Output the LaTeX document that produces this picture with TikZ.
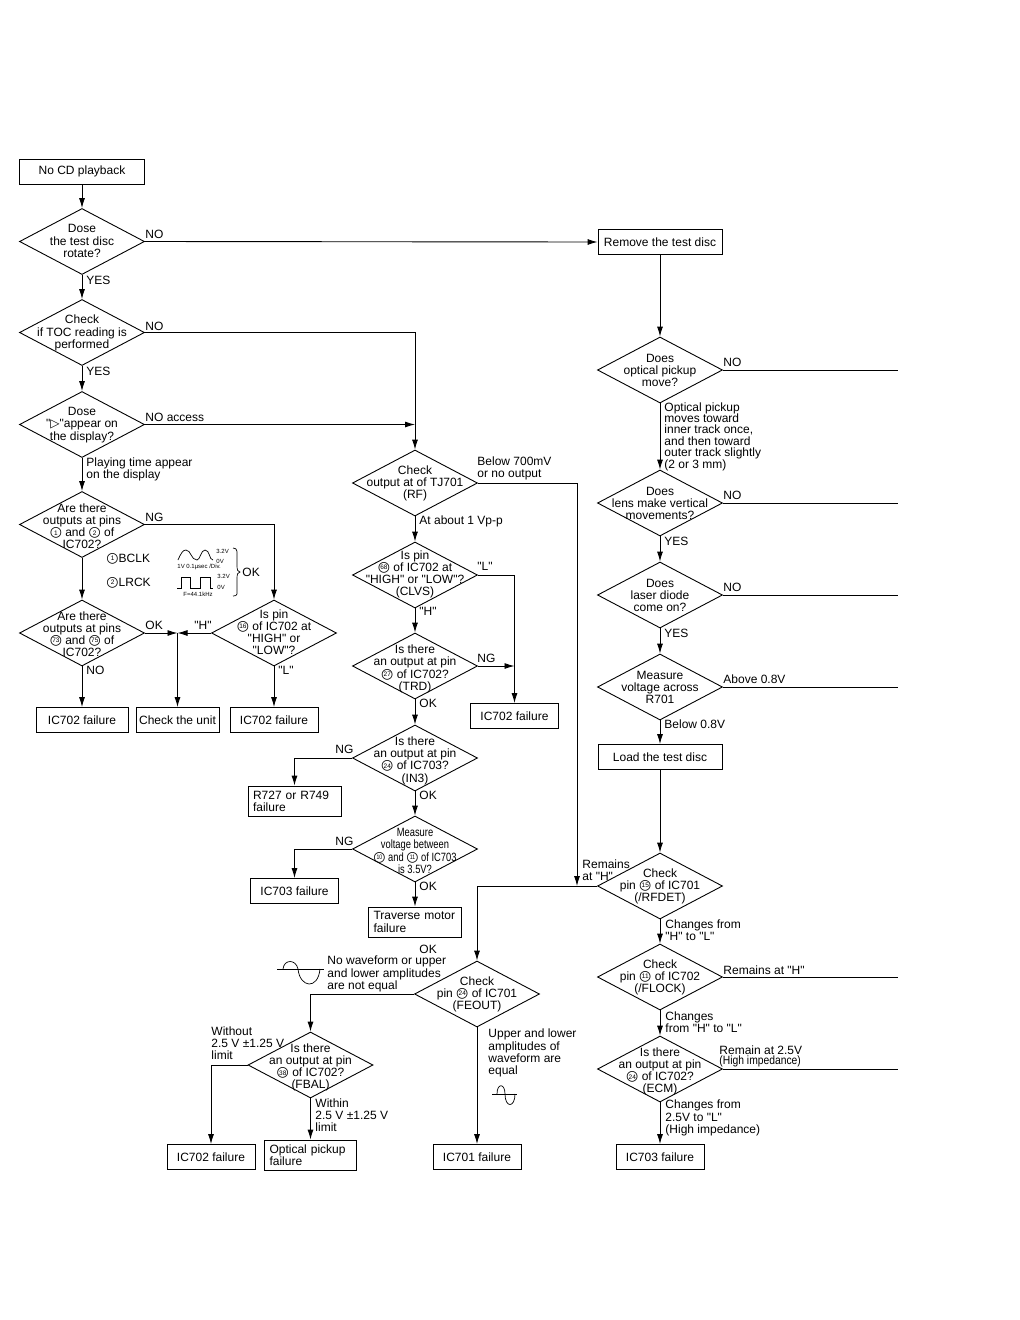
\documentclass[tikz,border=0pt]{standalone}
\usepackage{fontspec}
\newfontfamily\labelfont{Liberation Sans}
\newfontfamily\symfont{DejaVu Sans}
\newfontfamily\narrowfont[FakeStretch=0.86]{Liberation Sans}
\newfontfamily\thinfont[FakeStretch=0.78]{Liberation Sans}
\usetikzlibrary{shapes.geometric,arrows.meta}
\usetikzlibrary{positioning}
\newcommand{\dtext}[2][-4pt]{\makebox[0pt]{\smash{\raisebox{#1}{\begin{tabular}[c]{@{}c@{}}#2\end{tabular}}}}}
\newcommand{\dtight}[2][-4pt]{{\def\arraystretch{.92}\dtext[#1]{#2}}}
\newcommand{\pinno}[1]{\ooalign{\hfil\raisebox{1.7pt}{\fontsize{6.5}{6}\selectfont #1}\hfil\cr{\fontsize{14}{14}\symfont\char"25CB}\cr}}
\tikzset{
	dia/.style={draw, diamond, inner sep=0pt, minimum width=125pt, minimum height=66pt},
	proc/.style={draw, rectangle, inner sep=0pt, minimum width=88pt, minimum height=25pt},
	procl/.style={proc, minimum width=93pt, minimum height=30pt, inner xsep=5pt, text width=83pt, align=left},
	lbl/.style={anchor=west, inner sep=0pt, align=left},
	tiny/.style={inner sep=0pt, font=\labelfont\fontsize{6}{6}\selectfont},
}

\begin{document}
\begin{tikzpicture}[x=1pt, y=-1pt, >={Latex[length=10pt,width=6pt]}, line width=0.9pt, font=\labelfont\fontsize{12}{12.2}\selectfont]
	\useasboundingbox (0,0) rectangle (1020,1320);
	% left column
	\node[proc, minimum width=125pt] (Start) at (82,171.5) {No CD playback};
	\node[dia, below of=Start, node distance=70pt] (Rotate) {\dtext{Dose\\the test disc\\rotate?}};
	\node[dia, below of=Rotate, node distance=91pt] (Toc) {\dtext{Check\\if TOC reading is\\performed}};
	\node[dia, below of=Toc, node distance=92pt] (Display) {\dtext{Dose\\"{\symfont\char"25B7}"appear on\\the display?}};
	\node[dia, below of=Display, node distance=100pt] (PinsLow) {\dtext[-6.5pt]{Are there\\outputs at pins\\\pinno{1} and \pinno{2} of\\IC702?}};
	\node[dia, below of=PinsLow, node distance=108.5pt] (PinsHigh) {\dtight[-5.5pt]{Are there\\outputs at pins\\\pinno{73} and \pinno{75} of\\IC702?}};
	\node[proc, minimum width=92pt, below of=PinsHigh, node distance=87pt] (FailHigh) {IC702 failure};
	\node[dia] (PinLevel) at (274,633) {\dtext{Is pin\\\pinno{16} of IC702 at\\"HIGH" or\\"LOW"?}};
	\node[proc, below of=PinLevel, node distance=87pt] (FailLevel) {IC702 failure};
	\node[proc, minimum width=83pt] (Unit) at (177.5,720) {Check the unit};
	\coordinate (Merge) at (Unit.north |- PinsHigh.east);
	% middle column
	\node[dia] (Tj) at (415,483) {\dtext{Check\\output at of TJ701\\(RF)}};
	\node[dia, below of=Tj, node distance=92pt] (Clvs) {\dtext[-3pt]{Is pin\\\pinno{68} of IC702 at\\"HIGH" or "LOW"?\\(CLVS)}};
	\node[dia, below of=Clvs, node distance=91pt] (Trd) {\dtext[-6.5pt]{Is there\\an output at pin\\\pinno{27} of IC702?\\(TRD)}};
	\node[dia, below of=Trd, node distance=92pt] (Inthree) {\dtext[-6pt]{Is there\\an output at pin\\\pinno{24} of IC703?\\(IN3)}};
	\node[dia, below of=Inthree, node distance=91pt] (Between) {\dtext[-6.5pt]{\thinfont Measure\\\thinfont voltage between\\\thinfont\pinno{10} and \pinno{11} of IC703\\\thinfont is 3.5V?}};
	\node[procl, below of=Between, node distance=73pt] (Traverse) {Traverse motor\\failure};
	\node[procl] (Resistor) at (294.5,801) {R727 or R749\\failure};
	\node[proc] (FailBetween) at (294.5,891) {IC703 failure};
	\node[proc] (FailClvs) at (514.5,716) {IC702 failure};
	% right column
	\node[proc, minimum width=124pt] (Remove) at (660,242) {Remove the test disc};
	\node[dia, below of=Remove, node distance=128pt] (Optical) {\dtext[-5pt]{Does\\optical pickup\\move?}};
	\node[dia, below of=Optical, node distance=133pt] (Lens) {\dtext[-5pt]{Does\\lens make vertical\\movements?}};
	\node[dia, below of=Lens, node distance=92pt] (Laser) {\dtext[-5pt]{Does\\laser diode\\come on?}};
	\node[dia, below of=Laser, node distance=92pt] (Across) {\dtext[-5pt]{Measure\\voltage across\\R701}};
	\node[proc, minimum width=124pt, below of=Across, node distance=70pt] (Load) {Load the test disc};
	\node[dia, below of=Load, node distance=129pt] (Rfdet) {\dtext{Check\\pin \pinno{15} of IC701\\(/RFDET)}};
	\node[dia, below of=Rfdet, node distance=91pt] (Flock) {\dtext{Check\\pin \pinno{11} of IC702\\(/FLOCK)}};
	\node[dia, below of=Flock, node distance=92pt] (Ecm) {\dtight[-6pt]{Is there\\an output at pin\\\pinno{24} of IC702?\\(ECM)}};
	\node[proc, below of=Ecm, node distance=88pt] (FailEcm) {IC703 failure};
	% bottom
	\node[dia] (Feout) at (477,994) {\dtext{Check\\pin \pinno{24} of IC701\\(FEOUT)}};
	\node[proc, below of=Feout, node distance=163pt] (FailFeout) {IC701 failure};
	\node[dia] (Fbal) at (310.5,1065) {\dtight[-6pt]{Is there\\an output at pin\\\pinno{38} of IC702?\\(FBAL)}};
	\node[procl, minimum width=92pt, text width=82pt, below of=Fbal, node distance=90pt] (Pickup) {Optical pickup\\failure};
	\node[proc] (FailFbal) at (211,1157) {IC702 failure};
	% free ends
	\coordinate (EndOptical) at (898,370);
	\coordinate (EndLens) at (898,503);
	\coordinate (EndLaser) at (898,595);
	\coordinate (EndAcross) at (898,687);
	\coordinate (EndFlock) at (898,977);
	\coordinate (EndEcm) at (898,1069);
	\coordinate (Tap) at (577,886);
	% connectors
	\draw[->] (Start) -- (Rotate);
	\draw[->] (Rotate) -- (Toc);
	\draw[->] (Toc) -- (Display);
	\draw[->] (Display) -- (PinsLow);
	\draw[->] (PinsLow) -- (PinsHigh);
	\draw[->] (PinsHigh) -- (FailHigh);
	\draw[->] (PinLevel) -- (FailLevel);
	\draw[->] (PinsLow.east) -| (PinLevel.north);
	\draw[->] (PinsHigh.east) -- (Merge);
	\draw[->] (PinLevel.west) -- (Merge);
	\draw[->] (Merge) -- (Unit.north);
	\draw[->] (Rotate.east) -- (Remove.west);
	\draw[->] (Toc.east) -| (Tj.north);
	\draw[->] (Display.east) -- (Tj.north |- Display.east);
	\draw[->] (Tj) -- (Clvs);
	\draw[->] (Clvs) -- (Trd);
	\draw[->] (Trd) -- (Inthree);
	\draw[->] (Inthree) -- (Between);
	\draw[->] (Between) -- (Traverse);
	\draw[->] (Inthree.west) -| (Resistor.north);
	\draw[->] (Between.west) -| (FailBetween.north);
	\draw[->] (Clvs.east) -| (FailClvs.north);
	\draw[->] (Trd.east) -- (FailClvs.north |- Trd.east);
	\draw[->] (Tj.east) -| (Tap);
	\draw[->] (Remove) -- (Optical);
	\draw[->] (Optical) -- (Lens);
	\draw[->] (Lens) -- (Laser);
	\draw[->] (Laser) -- (Across);
	\draw[->] (Across) -- (Load);
	\draw[->] (Load) -- (Rfdet);
	\draw[->] (Rfdet) -- (Flock);
	\draw[->] (Flock) -- (Ecm);
	\draw[->] (Ecm) -- (FailEcm);
	\draw (Optical.east) -- (EndOptical);
	\draw (Lens.east) -- (EndLens);
	\draw (Laser.east) -- (EndLaser);
	\draw (Across.east) -- (EndAcross);
	\draw (Flock.east) -- (EndFlock);
	\draw (Ecm.east) -- (EndEcm);
	\draw[->] (Rfdet.west) -| (Feout.north);
	\draw[->] (Feout) -- (FailFeout);
	\draw[->] (Feout.west) -| (Fbal.north);
	\draw[->] (Fbal) -- (Pickup);
	\draw[->] (Fbal.west) -| (FailFbal.north);
	% labels
	\node[lbl] (LblRotateNo) at (145,234) {NO};
	\node[lbl] (LblRotateYes) at (86,280) {YES};
	\node[lbl] (LblTocNo) at (145,326) {NO};
	\node[lbl] (LblTocYes) at (86,371) {YES};
	\node[lbl] (LblAccess) at (145,417) {NO access};
	\node[lbl] (LblPlaying) at (86,469) {Playing time appear\\on the display};
	\node[lbl] (LblLowNg) at (145,517) {NG};
	\node[lbl] (LblHighOk) at (145,625) {OK};
	\node[lbl] (LblHighNo) at (86,670) {NO};
	\node[lbl] (LblLevelH) at (194,625) {"H"};
	\node[lbl] (LblLevelL) at (278,670) {"L"};
	\node[lbl] (LblBclk) at (106,559) {\pinno{1}BCLK};
	\node[lbl] (LblLrck) at (106,583) {\pinno{2}LRCK};
	\node[lbl] (LblWaveOk) at (242,572) {OK};
	\node[lbl] (LblTjLow) at (477,468) {Below 700mV\\or no output};
	\node[lbl] (LblTjVp) at (419,521) {At about 1 Vp-p};
	\node[lbl] (LblClvsL) at (477,566) {"L"};
	\node[lbl] (LblClvsH) at (419,611) {"H"};
	\node[lbl] (LblTrdNg) at (477,658) {NG};
	\node[lbl] (LblTrdOk) at (419,703) {OK};
	\node[lbl] (LblInNg) at (335,749) {NG};
	\node[lbl] (LblInOk) at (419,795) {OK};
	\node[lbl] (LblBetweenNg) at (335,841) {NG};
	\node[lbl] (LblBetweenOk) at (419,886) {OK};
	\node[lbl] (LblFeoutOk) at (419,949) {OK};
	\node[lbl] (LblFeoutNo) at (327,974) {No waveform or upper\\and lower amplitudes\\are not equal};
	\node[lbl] (LblFeoutUp) at (488,1053) {Upper and lower\\amplitudes of\\waveform are\\equal};
	\node[lbl] (LblFbalOut) at (211,1043) {Without\\2.5 V ±1.25 V\\limit};
	\node[lbl] (LblFbalIn) at (315,1115) {Within\\2.5 V ±1.25 V\\limit};
	\node[lbl] (LblOpticalNo) at (723,362) {NO};
	\node[lbl, font=\labelfont\fontsize{12}{11.4}\selectfont] (LblOpticalMove) at (664,436.5) {Optical pickup\\moves toward\\inner track once,\\and then toward\\outer track slightly\\(2 or 3 mm)};
	\node[lbl] (LblLensNo) at (723,495) {NO};
	\node[lbl] (LblLensYes) at (664,541) {YES};
	\node[lbl] (LblLaserNo) at (723,587) {NO};
	\node[lbl] (LblLaserYes) at (664,633) {YES};
	\node[lbl] (LblAbove) at (723,679) {Above 0.8V};
	\node[lbl] (LblBelow) at (664,724) {Below 0.8V};
	\node[lbl] (LblRemainsTap) at (582,870) {Remains\\at "H"};
	\node[lbl] (LblRfdetChange) at (665,930) {Changes from\\"H" to "L"};
	\node[lbl] (LblFlockRemains) at (723,970) {Remains at "H"};
	\node[lbl] (LblFlockChange) at (665,1022) {Changes\\from "H" to "L"};
	\node[lbl] (LblEcmRemain) at (719,1050) {Remain at 2.5V};
	\node[lbl, font=\narrowfont\fontsize{12}{12}\selectfont] (LblEcmHigh) at (719,1061) {(High impedance)};
	\node[lbl] (LblEcmChange) at (665,1118) {Changes from\\2.5V to "L"\\(High impedance)};
	% waveforms
	\begin{scope}[line width=0.7pt]
		\draw (178,560) .. controls (181,553) and (183,550) .. (186,550) .. controls (191,550) and (191,560) .. (197,560) .. controls (200,560) and (201,550) .. (205,550) .. controls (210,550) and (209,560) .. (213,560);
		\draw (177,588) -- (181,588) -- (181,577) -- (190,577) -- (190,588) -- (200,588) -- (200,577) -- (210,577) -- (210,588) -- (213,588);
		\draw (233,548) .. controls (238,548) and (237,552) .. (237,560) -- (237,566) .. controls (237,570) and (238,572) .. (240,572) .. controls (238,572) and (237,574) .. (237,578) -- (237,588) .. controls (237,594) and (238,596) .. (233,596);
		\draw (277,969) -- (324,969);
		\draw (283,969) .. controls (284,959) and (296,959) .. (298,969) .. controls (300,988) and (318,990) .. (320,969);
		\draw (492,1094) -- (517,1094);
		\draw (497,1094) .. controls (497,1083) and (505,1083) .. (505,1094) .. controls (505,1108) and (515,1108) .. (515,1094);
	\end{scope}
	\node[tiny, anchor=west] (TxtBclkHigh) at (216,551) {3.2V};
	\node[tiny, anchor=west] (TxtBclkLow) at (216,561) {0V};
	\node[tiny, anchor=west] (TxtBclkDiv) at (177,567) {1V 0.1µsec /Div.};
	\node[tiny, anchor=west] (TxtLrckHigh) at (217,576) {3.2V};
	\node[tiny, anchor=west] (TxtLrckLow) at (217,587) {0V};
	\node[tiny] (TxtLrckFreq) at (198,594) {F=44.1kHz};
\end{tikzpicture}
\end{document}
